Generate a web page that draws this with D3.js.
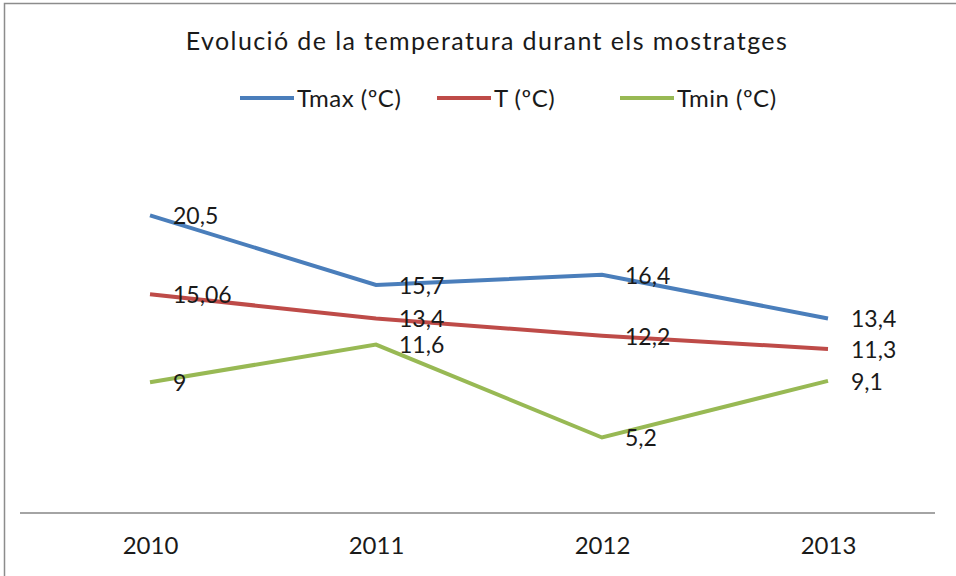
<!DOCTYPE html>
<html>
<head>
<meta charset="utf-8">
<script src="https://cdn.jsdelivr.net/npm/d3@7"></script>
<style>
  body { margin: 0; background: #fff; }
  text { font-family: Lato, "Open Sans", sans-serif; fill: #1a1a1a; }
</style>
</head>
<body>
<script>
var years = ["2010", "2011", "2012", "2013"];
var tmax = [20.5, 15.7, 16.4, 13.4];
var tmean = [15.06, 13.4, 12.2, 11.3];
var tmin = [9, 11.6, 5.2, 9.1];
var labels = {
  tmax: ["20,5", "15,7", "16,4", "13,4"],
  tmean: ["15,06", "13,4", "12,2", "11,3"],
  tmin: ["9", "11,6", "5,2", "9,1"]
};
var seriesNames = ["Tmax (ºC)", "T (ºC)", "Tmin (ºC)"];
var colors = ["#4a7ebb", "#be4b48", "#98b954"];

var series = [
  { name: seriesNames[0], values: tmax, labels: labels.tmax, color: colors[0] },
  { name: seriesNames[1], values: tmean, labels: labels.tmean, color: colors[1] },
  { name: seriesNames[2], values: tmin, labels: labels.tmin, color: colors[2] }
];

var svg = d3.select("body").append("svg")
  .attr("width", 956)
  .attr("height", 576);

// chart border
svg.append("rect")
  .attr("x", 4.5).attr("y", 3.5)
  .attr("width", 960).attr("height", 600)
  .attr("fill", "#fff")
  .attr("stroke", "#8c8c8c")
  .attr("stroke-width", 1.5);

var x = d3.scalePoint().domain(years).range([150, 828]).padding(0);
var y = d3.scaleLinear().domain([0, 25]).range([513, 150]);

// title
svg.append("text")
  .attr("x", 487).attr("y", 50)
  .attr("text-anchor", "middle")
  .style("font-size", "25px")
  .style("letter-spacing", "1.4px")
  .text("Evolució de la temperatura durant els mostratges");

// legend
var legX = [240, 437, 620];
var leg = svg.selectAll("g.leg").data(series).enter().append("g")
  .attr("transform", function(d, i) { return "translate(" + legX[i] + ",98)"; });
leg.append("line")
  .attr("x1", 0).attr("x2", 54)
  .attr("stroke", function(d) { return d.color; })
  .attr("stroke-width", 4);
leg.append("text")
  .attr("x", 57).attr("y", 0)
  .attr("dy", "0.36em")
  .style("font-size", "24px")
  .style("letter-spacing", "0.5px")
  .text(function(d) { return d.name; });

// x axis
var xAxis = svg.append("g")
  .attr("transform", "translate(0,513)")
  .call(d3.axisBottom(x).tickSize(0).tickPadding(24));
xAxis.select(".domain").remove();
xAxis.append("line")
  .attr("x1", 20).attr("x2", 935)
  .attr("stroke", "#868686").attr("stroke-width", 1.5);
xAxis.selectAll(".tick text")
  .style("font-size", "24px")
  .style("font-family", "Lato, 'Open Sans', sans-serif")
  .attr("fill", "#1a1a1a");

var line = d3.line()
  .x(function(d, i) { return x(years[i]); })
  .y(function(d) { return y(d); });

svg.selectAll("path.series").data(series).enter().append("path")
  .attr("d", function(d) { return line(d.values); })
  .attr("fill", "none")
  .attr("stroke", function(d) { return d.color; })
  .attr("stroke-width", 4)
  .attr("stroke-linejoin", "miter");

series.forEach(function(s) {
  svg.selectAll(null).data(s.values).enter().append("text")
    .attr("x", function(d, i) { return x(years[i]) + 23; })
    .attr("y", function(d) { return y(d); })
    .attr("dy", "0.38em")
    .style("font-size", "23px")
    .text(function(d, i) { return s.labels[i]; });
});
</script>
</body>
</html>
